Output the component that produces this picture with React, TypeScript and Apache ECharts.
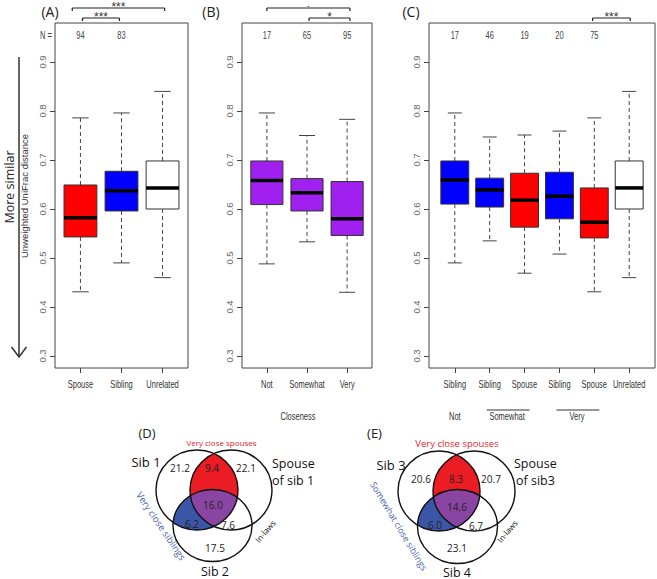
import React, { useEffect, useRef } from 'react';
import * as echarts from 'echarts';

// ---------- data ----------
const catsA = ['Spouse', 'Sibling', 'Unrelated'];
const statsA = [
  [0.431, 0.543, 0.582, 0.649, 0.786],
  [0.490, 0.596, 0.637, 0.677, 0.796],
  [0.460, 0.600, 0.643, 0.698, 0.840],
];
const colorsA = ['#ff0000', '#0000ff', '#ffffff'];
const countsA = ['94', '83', ''];

const catsB = ['Not', 'Somewhat', 'Very'];
const statsB = [
  [0.488, 0.609, 0.658, 0.698, 0.796],
  [0.533, 0.596, 0.633, 0.662, 0.750],
  [0.430, 0.546, 0.580, 0.656, 0.783],
];
const colorsB = ['#a020f0', '#a020f0', '#a020f0'];
const countsB = ['17', '65', '95'];

const catsC = ['Sibling', 'Sibling', 'Spouse', 'Sibling', 'Spouse', 'Unrelated'];
const statsC = [
  [0.490, 0.610, 0.659, 0.698, 0.796],
  [0.535, 0.604, 0.639, 0.663, 0.747],
  [0.469, 0.563, 0.618, 0.673, 0.751],
  [0.508, 0.580, 0.626, 0.675, 0.759],
  [0.431, 0.541, 0.573, 0.643, 0.786],
  [0.460, 0.600, 0.643, 0.698, 0.840],
];
const colorsC = ['#0000ff', '#0000ff', '#ff0000', '#0000ff', '#ff0000', '#ffffff'];
const countsC = ['17', '46', '19', '20', '75', ''];
const groupLabelsC = ['Not', 'Somewhat', 'Very'];
const groupSpansC = [[1, 1], [2, 3], [4, 5]];

const sigA = [[0.8, 3.05, 2], [1.05, 1.95, 1]];
const sigAMarks = ['***', '***'];
const sigB = [[1.0, 3.07, 2], [2.05, 3.07, 1]];
const sigBMarks = ['.', '*'];
const sigC = [[4.95, 6.03, 1]];
const sigCMarks = ['***'];

const yTicks = [0.3, 0.4, 0.5, 0.6, 0.7, 0.8, 0.9];

const vennDNumbers = [21.2, 9.4, 22.1, 16.0, 6.2, 7.6, 17.5];
const vennENumbers = [20.6, 8.3, 20.7, 14.6, 6.0, 6.7, 23.1];

// ---------- layout ----------
const R_FONT = '"Liberation Sans", Arial, sans-serif';
const V_FONT = '"Open Sans", "Noto Sans", sans-serif';
const NARROW = 0.75;
const Y_MIN = 0.2755;
const Y_MAX = 0.9796;
const COUNT_Y = 0.953;

function rText(text: string, x: number, y: number, size: number, fill: string) {
  return {
    type: 'text', x, y, scaleX: NARROW, scaleY: 1,
    style: {
      text, fill, fontSize: size, fontFamily: R_FONT,
      align: 'center', verticalAlign: 'middle', textAlign: 'center', textVerticalAlign: 'middle',
    },
  };
}

function makeBoxRender(colors: string[], counts: string[], cats: string[]) {
  return (params: any, api: any) => {
    const i = params.dataIndex;
    const cs = params.coordSys;
    const x = api.value(0);
    const lo = api.value(1), q1 = api.value(2), md = api.value(3), q3 = api.value(4), hi = api.value(5);
    const y = (v: number) => api.coord([x, v])[1];
    const cx = api.coord([x, md])[0];
    const w = api.size([0.8, 0])[0];
    const cap = w / 4;
    const dash = { stroke: '#444', lineWidth: 1, lineDash: [4, 3], fill: null };
    const solid = { stroke: '#444', lineWidth: 1, fill: null };
    const children: any[] = [
      { type: 'line', shape: { x1: cx, y1: y(q3), x2: cx, y2: y(hi) }, style: dash },
      { type: 'line', shape: { x1: cx, y1: y(q1), x2: cx, y2: y(lo) }, style: dash },
      { type: 'line', shape: { x1: cx - cap, y1: y(hi), x2: cx + cap, y2: y(hi) }, style: solid },
      { type: 'line', shape: { x1: cx - cap, y1: y(lo), x2: cx + cap, y2: y(lo) }, style: solid },
      {
        type: 'rect',
        shape: { x: cx - w / 2, y: y(q3), width: w, height: y(q1) - y(q3) },
        style: { fill: colors[i], stroke: '#333', lineWidth: 1 },
      },
      {
        type: 'line',
        shape: { x1: cx - w / 2, y1: y(md), x2: cx + w / 2, y2: y(md) },
        style: { stroke: '#000', lineWidth: 3.5 },
      },
      rText(cats[i], cx, cs.y + cs.height + 17, 10, '#333'),
    ];
    if (counts[i]) children.push(rText(counts[i], cx, y(COUNT_Y), 10, '#444'));
    return { type: 'group', children };
  };
}

function makeSigRender(marks: string[]) {
  return (params: any, api: any) => {
    const i = params.dataIndex;
    const x1 = api.coord([api.value(0), 0.5])[0];
    const x2 = api.coord([api.value(1), 0.5])[0];
    const lvl = api.value(2);
    const cs = params.coordSys;
    const y = cs.y - (lvl === 1 ? 5 : 15);
    const m = marks[i];
    const st = { stroke: '#222', lineWidth: 1.2, fill: null };
    const isDot = m === '.';
    const label = isDot
      ? {
          type: 'text', x: (x1 + x2) / 2, y: y - 8,
          style: {
            text: m, fill: '#222', fontSize: 8, lineHeight: 8, fontWeight: 'bold', fontFamily: R_FONT,
            align: 'center', verticalAlign: 'top', textAlign: 'center', textVerticalAlign: 'top',
          },
        }
      : {
          type: 'text', x: (x1 + x2) / 2, y: y - 1,
          style: {
            text: m, fill: '#333', fontSize: 12, lineHeight: 12, fontFamily: R_FONT,
            align: 'center', verticalAlign: 'middle', textAlign: 'center', textVerticalAlign: 'middle',
          },
        };
    return {
      type: 'group',
      children: [
        { type: 'line', shape: { x1, y1: y, x2, y2: y }, style: st },
        { type: 'line', shape: { x1, y1: y, x2: x1, y2: y + 3 }, style: st },
        { type: 'line', shape: { x1: x2, y1: y, x2, y2: y + 3 }, style: st },
        label,
      ],
    };
  };
}

function groupRender(params: any, api: any) {
  const i = params.dataIndex;
  const a = api.value(0), b = api.value(1);
  const cs = params.coordSys;
  const xa = api.coord([a, 0.5])[0];
  const xb = api.coord([b, 0.5])[0];
  const children: any[] = [rText(groupLabelsC[i], (xa + xb) / 2, cs.y + cs.height + 49, 10, '#333')];
  if (b > a) {
    children.push({
      type: 'line',
      shape: { x1: xa - 3, y1: cs.y + cs.height + 42, x2: xb + 5, y2: cs.y + cs.height + 42 },
      style: { stroke: '#333', lineWidth: 1 },
    });
  }
  return { type: 'group', children };
}

// ---------- venn geometry ----------
type Ell = { cx: number; cy: number; rx: number; ry: number };
function inside(e: Ell, x: number, y: number) {
  const dx = (x - e.cx) / e.rx, dy = (y - e.cy) / e.ry;
  return dx * dx + dy * dy <= 1.002;
}
function regionPoly(ells: Ell[]): number[][] {
  const pts: number[][] = [];
  for (const e of ells) {
    for (let k = 0; k < 900; k++) {
      const t = (k / 900) * Math.PI * 2;
      const x = e.cx + e.rx * Math.cos(t), y = e.cy + e.ry * Math.sin(t);
      if (ells.every((o) => o === e || inside(o, x, y))) pts.push([x, y]);
    }
  }
  let mx = 0, my = 0;
  pts.forEach((p) => { mx += p[0]; my += p[1]; });
  mx /= pts.length; my /= pts.length;
  pts.sort((p, q) => Math.atan2(p[1] - my, p[0] - mx) - Math.atan2(q[1] - my, q[0] - mx));
  return pts;
}

function txt(text: string, x: number, y: number, size: number, fill: string, opts: any = {}) {
  const align = opts.align || 'center';
  const style: any = {
    text, fill, fontSize: size, fontFamily: opts.font || V_FONT,
    align, verticalAlign: 'middle', textAlign: align, textVerticalAlign: 'middle',
  };
  if (opts.lineHeight) style.lineHeight = opts.lineHeight;
  const el: any = { type: 'text', x, y, rotation: opts.rotation || 0, z: 10, style };
  if (opts.scaleX) { el.scaleX = opts.scaleX; el.scaleY = 1; }
  return el;
}

function venn(
  ells: Ell[], numbers: number[], numPos: number[][],
  labels: { t: string; x: number; y: number; s: number; c: string; r?: number; a?: string; lh?: number }[],
) {
  const [A, B, C] = ells;
  const els: any[] = [
    { type: 'polygon', shape: { points: regionPoly([A, B]) }, style: { fill: '#ec1c24' } },
    { type: 'polygon', shape: { points: regionPoly([A, C]) }, style: { fill: '#3c56a7' } },
    { type: 'polygon', shape: { points: regionPoly([A, B, C]) }, style: { fill: '#8a45a3' } },
  ];
  ells.forEach((e) => {
    els.push({
      type: 'ellipse', shape: { cx: e.cx, cy: e.cy, rx: e.rx, ry: e.ry },
      style: { fill: 'none', stroke: '#111', lineWidth: 1.4 },
    });
  });
  numbers.forEach((n, i) => els.push(txt(n.toFixed(1), numPos[i][0], numPos[i][1], 10, '#222')));
  labels.forEach((l) =>
    els.push(txt(l.t, l.x, l.y, l.s, l.c, { rotation: l.r || 0, align: l.a, lineHeight: l.lh })),
  );
  return els;
}

const deg = Math.PI / 180;

export default function App() {
  const ref = useRef<HTMLDivElement>(null);
  useEffect(() => {
    if (!ref.current) return;
    const chart = echarts.init(ref.current, undefined, { renderer: 'svg' });

    const grids = [
      { left: 55, top: 23, width: 133, height: 345 },
      { left: 242, top: 23, width: 130, height: 345 },
      { left: 429, top: 23, width: 226, height: 345 },
    ].map((g) => ({ ...g, show: true, borderColor: '#444', borderWidth: 1, backgroundColor: 'transparent' }));

    const xAx = (gi: number, min: number, max: number, cats: string[]) => {
      const vals = cats.map((_, i) => i + 1);
      return {
        gridIndex: gi, type: 'value', min, max,
        axisLine: { show: false }, splitLine: { show: false },
        axisTick: { show: true, customValues: vals, length: 5, lineStyle: { color: '#444' } },
        axisLabel: { show: false },
      };
    };
    const yAx = (gi: number) => ({
      gridIndex: gi, type: 'value', min: Y_MIN, max: Y_MAX,
      axisLine: { show: false }, splitLine: { show: false },
      axisTick: { show: true, customValues: yTicks, length: 5, lineStyle: { color: '#444' } },
      axisLabel: {
        show: true, customValues: yTicks, rotate: 90, margin: 8, fontSize: 9.5, color: '#666',
        fontFamily: R_FONT, formatter: (v: number) => v.toFixed(1),
      },
    });

    const boxSeries = (gi: number, stats: number[][], colors: string[], counts: string[], cats: string[]) => ({
      type: 'custom', xAxisIndex: gi, yAxisIndex: gi, clip: false,
      data: stats.map((s, i) => [i + 1, ...s]),
      encode: { x: 0, y: [1, 2, 3, 4, 5] },
      renderItem: makeBoxRender(colors, counts, cats),
    });
    const sigSeries = (gi: number, data: number[][], marks: string[]) => ({
      type: 'custom', xAxisIndex: gi, yAxisIndex: gi, clip: false,
      data, encode: { x: [0, 1] },
      renderItem: makeSigRender(marks),
    });

    const ellD: Ell[] = [
      { cx: 197, cy: 490, rx: 41, ry: 40 },
      { cx: 231, cy: 490, rx: 41, ry: 40 },
      { cx: 212.5, cy: 525.5, rx: 39.5, ry: 36 },
    ];
    const ellE: Ell[] = [
      { cx: 439, cy: 491, rx: 41, ry: 40 },
      { cx: 474, cy: 491, rx: 41, ry: 40 },
      { cx: 457.5, cy: 526.5, rx: 40, ry: 37 },
    ];
    const numPosD = [[180, 468], [212, 468], [246, 468], [213, 505], [192, 523.5], [228, 525], [215, 548]];
    const numPosE = [[421, 479], [456, 479], [491, 479], [457, 507], [435, 525], [476, 526], [457, 548]];

    const vennDEls = venn(ellD, vennDNumbers, numPosD, [
      { t: 'Very close spouses', x: 221.5, y: 442.5, s: 8, c: '#e8262d' },
      { t: 'Sib 1', x: 146, y: 462, s: 13, c: '#111' },
      { t: 'Spouse', x: 272, y: 463, s: 12.5, c: '#111', a: 'left' },
      { t: 'of sib 1', x: 272, y: 480, s: 12.5, c: '#111', a: 'left' },
      { t: 'Sib 2', x: 215, y: 571, s: 12.5, c: '#111', lh: 13 },
      { t: 'In-laws', x: 265, y: 531, s: 8, c: '#111', r: 50 * deg },
      { t: 'Very close siblings', x: 161, y: 526, s: 9.5, c: '#4d5fad', r: -56 * deg },
    ]);
    const vennEEls = venn(ellE, vennENumbers, numPosE, [
      { t: 'Very close spouses', x: 457, y: 443, s: 9.5, c: '#e8262d' },
      { t: 'Sib 3', x: 391, y: 465, s: 13, c: '#111' },
      { t: 'Spouse', x: 514, y: 463, s: 12.5, c: '#111', a: 'left' },
      { t: 'of sib3', x: 516, y: 480, s: 12.5, c: '#111', a: 'left' },
      { t: 'Sib 4', x: 457, y: 572, s: 12.5, c: '#111', lh: 13 },
      { t: 'In-laws', x: 507, y: 531, s: 8, c: '#111', r: 50 * deg },
      { t: 'Somewhat close siblings', x: 399, y: 526, s: 9, c: '#4d5fad', r: -59 * deg },
    ]);

    const graphic: any[] = [
      txt('(A)', 50, 11, 14, '#222'),
      txt('(B)', 211, 11, 14, '#222'),
      txt('(C)', 411, 11, 14, '#222'),
      txt('(D)', 147, 433, 13, '#222'),
      txt('(E)', 374.5, 433, 13, '#222'),
      txt('N =', 46, 36, 10, '#444', { font: R_FONT, scaleX: NARROW }),
      txt('More similar', 9, 187, 12.5, '#222', { rotation: Math.PI / 2, lineHeight: 14 }),
      txt('Unweighted UniFrac distance', 24, 196, 9.5, '#333', { rotation: Math.PI / 2, font: R_FONT }),
      txt('Closeness', 298, 417, 10, '#333', { font: R_FONT, scaleX: NARROW }),
      { type: 'line', shape: { x1: 19, y1: 57, x2: 19, y2: 357 }, style: { stroke: '#333', lineWidth: 1.5 } },
      {
        type: 'polyline', shape: { points: [[11.5, 347], [19, 357], [26.5, 347]] },
        style: { stroke: '#333', lineWidth: 1.5, fill: null },
      },
      ...vennDEls,
      ...vennEEls,
    ];

    chart.setOption({
      animation: false,
      backgroundColor: '#ffffff',
      grid: grids,
      xAxis: [xAx(0, 0.38, 3.62, catsA), xAx(1, 0.38, 3.62, catsB), xAx(2, 0.26, 6.74, catsC)],
      yAxis: [yAx(0), yAx(1), yAx(2)],
      series: [
        boxSeries(0, statsA, colorsA, countsA, catsA),
        boxSeries(1, statsB, colorsB, countsB, catsB),
        boxSeries(2, statsC, colorsC, countsC, catsC),
        sigSeries(0, sigA, sigAMarks),
        sigSeries(1, sigB, sigBMarks),
        sigSeries(2, sigC, sigCMarks),
        {
          type: 'custom', xAxisIndex: 2, yAxisIndex: 2, clip: false,
          data: groupSpansC, encode: { x: [0, 1] },
          renderItem: groupRender,
        },
      ],
      graphic,
    });
    return () => chart.dispose();
  }, []);
  return <div ref={ref} style={{ position: 'absolute', left: 0, top: 0, width: 657, height: 579 }} />;
}
